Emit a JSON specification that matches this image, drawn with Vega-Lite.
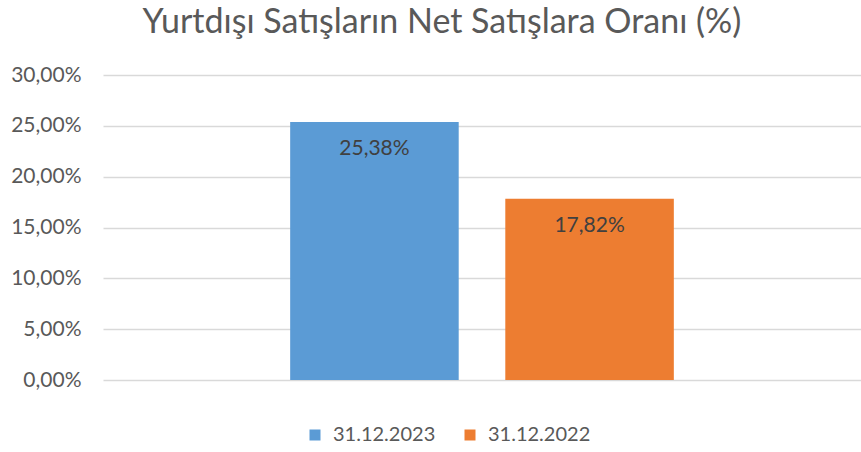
{
  "$schema": "https://vega.github.io/schema/vega-lite/v6.json",
  "width": 758,
  "height": 305,
  "autosize": {"type": "none"},
  "padding": {"left": 103, "top": 75, "right": 0, "bottom": 72},
  "background": "white",
  "config": {
    "locale": {"number": {"decimal": ",", "thousands": ".", "grouping": [3], "currency": ["", " TL"]}},
    "view": {"stroke": null},
    "font": "Lato"
  },
  "title": {
    "text": "Yurtdışı Satışların Net Satışlara Oranı (%)",
    "fontSize": 34,
    "font": "Lato",
    "fontWeight": "normal",
    "color": "#595959",
    "anchor": "middle",
    "dx": -40,
    "offset": 24
  },
  "data": {
    "values": [
      {"donem": "31.12.2023", "oran": 0.2538},
      {"donem": "31.12.2022", "oran": 0.1782}
    ]
  },
  "encoding": {
    "x": {
      "field": "donem",
      "type": "nominal",
      "sort": null,
      "scale": {"paddingInner": 0.2166, "paddingOuter": 0.87},
      "axis": null
    },
    "y": {
      "field": "oran",
      "type": "quantitative",
      "scale": {"domain": [0, 0.3]},
      "axis": {
        "title": null,
        "format": ".2%",
        "values": [0, 0.05, 0.1, 0.15, 0.2, 0.25, 0.3],
        "domain": false,
        "ticks": false,
        "labelPadding": 22,
        "labelFontSize": 21,
        "labelColor": "#595959",
        "gridColor": "#d9d9d9",
        "gridWidth": 1.5
      }
    }
  },
  "layer": [
    {
      "mark": {"type": "bar"},
      "encoding": {
        "color": {
          "field": "donem",
          "type": "nominal",
          "sort": null,
          "scale": {"domain": ["31.12.2023", "31.12.2022"], "range": ["#5b9bd5", "#ed7d31"]},
          "legend": {
            "title": null,
            "orient": "none",
            "legendX": 202,
            "legendY": 350,
            "direction": "horizontal",
            "symbolType": "square",
            "symbolSize": 121,
            "symbolStrokeWidth": 0,
            "labelOffset": 8,
            "labelFontSize": 20,
            "labelColor": "#595959",
            "columnPadding": 24
          }
        }
      }
    },
    {
      "mark": {"type": "text", "baseline": "middle", "dy": 27, "fontSize": 21, "color": "#404040"},
      "encoding": {
        "text": {"field": "oran", "type": "quantitative", "format": ".2%"}
      }
    }
  ]
}
